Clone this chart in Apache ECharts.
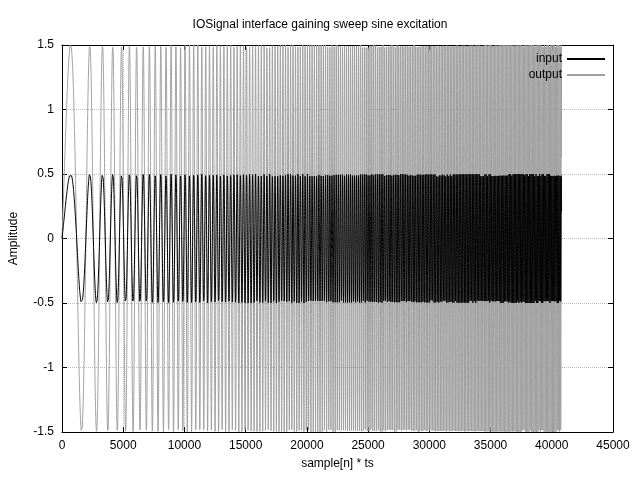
<!DOCTYPE html>
<html><head><meta charset="utf-8">
<script src="https://cdn.jsdelivr.net/npm/echarts@6/dist/echarts.min.js"></script>
<style>html,body{margin:0;padding:0;background:#fff}#c{width:640px;height:480px}</style>
</head><body><div id="c"></div>
<script>
// Sweep parameters (peaks at ~700, ~1600 trough, ~2300 peak)
const seriesNames = ['input', 'output'];
const amplitudes = [0.5, 1.5];
const sweepStartFreq = [0.00027];   // cycles per sample at n=0
const sweepRate = [2.48e-7];        // cycles per sample^2
const sampleCount = [40800];
const xTicks = [0, 5000, 10000, 15000, 20000, 25000, 30000, 35000, 40000, 45000];
const yTicks = [-1.5, -1, -0.5, 0, 0.5, 1, 1.5];

function sweep(amp) {
  const d = [];
  for (let n = 0; n <= sampleCount[0]; n++) {
    const ph = 2 * Math.PI * (sweepStartFreq[0] * n + sweepRate[0] * n * n / 2);
    d.push([n, amp * Math.sin(ph)]);
  }
  return d;
}
const colors = ['#000000', '#a0a0a0'];
const font = 'Liberation Sans';
const chart = echarts.init(document.getElementById('c'));
const axisCommon = {
  axisLine: {onZero: false, lineStyle: {color: '#000'}},
  axisTick: {inside: true, lineStyle: {color: '#000'}},
  axisLabel: {color: '#000', fontFamily: font, fontSize: 12, formatter: v => String(v)}
};
chart.setOption({
  animation: false,
  textStyle: {fontFamily: font},
  title: {text: 'IOSignal interface gaining sweep sine excitation', left: 'center', top: 14,
    textStyle: {fontSize: 12, fontWeight: 'normal', color: '#000', fontFamily: font}},
  legend: {right: 30, top: 48, orient: 'vertical', align: 'right', itemWidth: 38, itemHeight: 2, itemGap: 4,
    icon: 'rect', textStyle: {fontSize: 12, color: '#000', fontFamily: font},
    data: seriesNames},
  grid: {left: 62, right: 27, top: 45, bottom: 48},
  xAxis: [Object.assign({type: 'value', min: 0, max: 45000, interval: 5000, name: 'sample[n] * ts',
    nameLocation: 'middle', nameGap: 26, nameTextStyle: {color: '#000', fontSize: 12, fontFamily: font},
    splitLine: {show: true, lineStyle: {color: '#bbb', type: 'dotted'}}}, axisCommon),
    Object.assign({type: 'value', position: 'top', min: 0, max: 45000, interval: 5000,
    splitLine: {show: false}}, axisCommon, {axisLabel: {show: false}})],
  yAxis: [Object.assign({type: 'value', min: -1.5, max: 1.5, interval: 0.5, name: 'Amplitude',
    nameLocation: 'middle', nameGap: 42, nameTextStyle: {color: '#000', fontSize: 12, fontFamily: font},
    splitLine: {show: true, lineStyle: {color: '#bbb', type: 'dotted'}}}, axisCommon),
    Object.assign({type: 'value', position: 'right', min: -1.5, max: 1.5, interval: 0.5,
    splitLine: {show: false}}, axisCommon, {axisLabel: {show: false}})],
  series: [
    {name: seriesNames[1], type: 'line', data: sweep(amplitudes[1]), showSymbol: false, sampling: false,
      lineStyle: {width: 1, color: colors[1]}, itemStyle: {color: colors[1]}, z: 2},
    {name: seriesNames[0], type: 'line', data: sweep(amplitudes[0]), showSymbol: false, sampling: false,
      lineStyle: {width: 1, color: colors[0]}, itemStyle: {color: colors[0]}, z: 3}
  ]
});
</script></body></html>
